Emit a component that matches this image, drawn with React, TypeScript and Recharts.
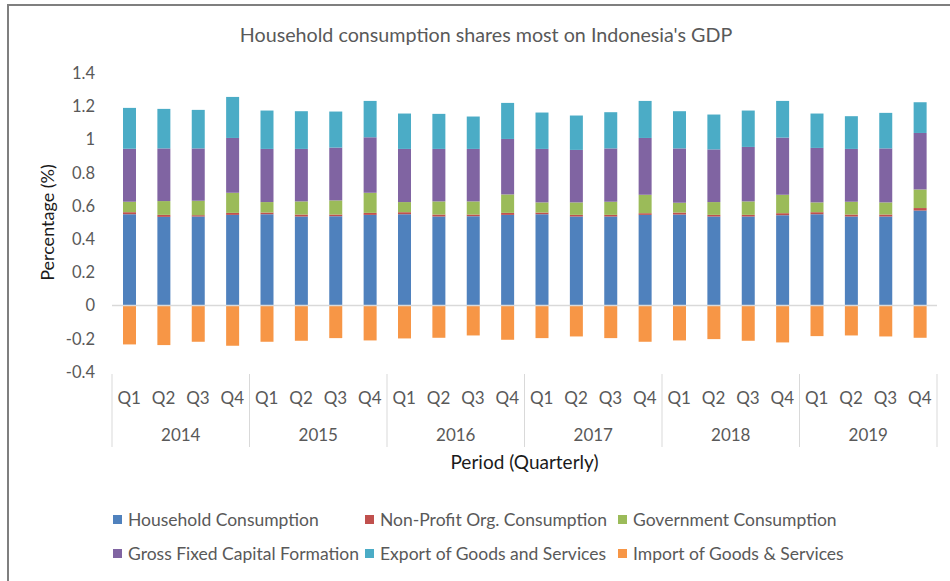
import React from "react";
import { BarChart, Bar, XAxis, YAxis, ReferenceLine, Legend } from "recharts";

const quarters = ["Q1","Q2","Q3","Q4","Q1","Q2","Q3","Q4","Q1","Q2","Q3","Q4","Q1","Q2","Q3","Q4","Q1","Q2","Q3","Q4","Q1","Q2","Q3","Q4"];
const years = ["2014","2014","2014","2014","2015","2015","2015","2015","2016","2016","2016","2016","2017","2017","2017","2017","2018","2018","2018","2018","2019","2019","2019","2019"];

const household = [0.550,0.534,0.536,0.546,0.550,0.536,0.538,0.546,0.550,0.536,0.538,0.546,0.550,0.536,0.536,0.546,0.548,0.536,0.536,0.544,0.550,0.536,0.536,0.572];
const nonProfit = [0.012,0.012,0.008,0.012,0.010,0.012,0.010,0.012,0.012,0.012,0.010,0.012,0.010,0.010,0.010,0.010,0.012,0.010,0.010,0.012,0.012,0.012,0.012,0.015];
const government = [0.063,0.083,0.087,0.121,0.063,0.079,0.085,0.121,0.061,0.079,0.079,0.111,0.061,0.075,0.079,0.111,0.059,0.077,0.081,0.111,0.059,0.077,0.073,0.112];
const gfcf = [0.319,0.317,0.315,0.330,0.320,0.316,0.318,0.334,0.320,0.316,0.316,0.334,0.322,0.316,0.321,0.342,0.327,0.317,0.328,0.344,0.328,0.318,0.325,0.340];
const exports = [0.246,0.238,0.232,0.247,0.231,0.227,0.217,0.219,0.213,0.211,0.195,0.217,0.219,0.207,0.218,0.223,0.224,0.210,0.219,0.221,0.207,0.197,0.214,0.185];
const imports = [-0.234,-0.238,-0.218,-0.242,-0.218,-0.212,-0.196,-0.210,-0.198,-0.194,-0.180,-0.206,-0.196,-0.186,-0.196,-0.218,-0.210,-0.202,-0.212,-0.222,-0.184,-0.180,-0.186,-0.194];

const yTicks = [-0.4,-0.2,0,0.2,0.4,0.6,0.8,1,1.2,1.4];

const seriesNames = ["Household Consumption","Non-Profit Org. Consumption","Government Consumption","Gross Fixed Capital Formation","Export of Goods and Services","Import of Goods & Services"];
const seriesKeys = ["hh","npo","gov","gfcf","exp","imp"];
const seriesColors = ["#4f81bd","#c0504d","#9bbb59","#8064a2","#4bacc6","#f79646"];

const data = quarters.map((q, i) => ({
  q,
  year: years[i],
  hh: household[i],
  npo: nonProfit[i],
  gov: government[i],
  gfcf: gfcf[i],
  exp: exports[i],
  imp: imports[i],
}));

const FONT = "Lato, 'Open Sans', sans-serif";
const W = 950;
const H = 581;
const PLOT_LEFT = 112;
const PLOT_RIGHT = 937;
const BAND = (PLOT_RIGHT - PLOT_LEFT) / quarters.length;
const SEP = "#d9d9d9";

const QTick = (props: any) => {
  const { x, y, payload } = props;
  return (
    <text x={x} y={y + 30} textAnchor="middle" fill="#595959" fontSize={17} fontFamily={FONT}>
      {payload.value}
    </text>
  );
};

const YearTick = (props: any) => {
  const { x, y, payload, index } = props;
  const top = y - 37;
  const els: any[] = [];
  if (index % 4 === 0) {
    const left = x - BAND / 2;
    els.push(<line key="l" x1={left} x2={left} y1={top} y2={top + 73} stroke={SEP} strokeWidth={1} />);
    els.push(
      <text key="t" x={left + 2 * BAND} y={y + 30} textAnchor="middle" fill="#595959" fontSize={17} fontFamily={FONT}>
        {payload.value}
      </text>
    );
  }
  if (index === quarters.length - 1) {
    const right = x + BAND / 2;
    els.push(<line key="r" x1={right} x2={right} y1={top} y2={top + 73} stroke={SEP} strokeWidth={1} />);
  }
  return <g>{els}</g>;
};

const LegendContent = (props: any) => {
  const { payload } = props;
  const xs = [113, 365, 618];
  const items = seriesNames.map((name, i) => {
    const p = (payload || []).find((e: any) => e.value === name);
    return { name, color: p ? p.color : seriesColors[i] };
  });
  return (
    <div style={{ position: "relative", width: W, height: 68 }}>
      {items.map((p, i) => {
        const col = i % 3;
        const row = Math.floor(i / 3);
        return (
          <div
            key={i}
            style={{
              position: "absolute",
              left: xs[col],
              top: row * 34,
              height: 34,
              display: "flex",
              alignItems: "center",
              whiteSpace: "nowrap",
              fontFamily: FONT,
              fontSize: 17.5,
              color: "#595959",
            }}
          >
            <span style={{ display: "inline-block", width: 9, height: 9, background: p.color, marginRight: 6 }} />
            <span>{p.name}</span>
          </div>
        );
      })}
    </div>
  );
};

export default function App() {
  return (
    <div style={{ position: "fixed", left: 0, top: 0, width: W, height: H, overflow: "hidden", background: "#fff" }}>
      <div style={{ position: "absolute", left: 7, top: 4, width: W + 20, height: H + 20, borderTop: "2px solid #7f7f7f", borderLeft: "2px solid #7f7f7f", boxSizing: "border-box" }} />
      <div style={{ position: "absolute", left: 0, top: 23, width: 972, textAlign: "center", fontFamily: FONT, fontSize: 19.7, color: "#595959" }}>
        Household consumption shares most on Indonesia's GDP
      </div>
      <div style={{ position: "absolute", left: 0, top: 0 }}>
        <BarChart
          width={W}
          height={H}
          data={data}
          margin={{ top: 73, right: W - PLOT_RIGHT, left: 50, bottom: 67 }}
          stackOffset="sign"
          barSize={13}
        >
          <XAxis dataKey="q" xAxisId={0} height={37} interval={0} tickLine={false} axisLine={false} tickSize={0} tick={<QTick />} />
          <XAxis
            dataKey="year"
            xAxisId="year"
            height={37}
            interval={0}
            tickLine={false}
            axisLine={false}
            tickSize={0}
            tick={<YearTick />}
            label={{
              content: (lp: any) => {
                const vb = lp.viewBox || {};
                return (
                  <text x={vb.x + vb.width / 2} y={vb.y + 60} textAnchor="middle" fill="#1a1a1a" fontSize={19} fontFamily={FONT}>
                    Period (Quarterly)
                  </text>
                );
              },
            }}
          />
          <YAxis
            width={62}
            domain={[-0.4, 1.4]}
            ticks={yTicks}
            interval={0}
            tickLine={false}
            axisLine={false}
            tickSize={0}
            tickMargin={17}
            tick={{ fill: "#595959", fontSize: 16.5, fontFamily: FONT }}
            tickFormatter={(v: number) => String(v)}
            label={{
              content: (lp: any) => {
                const vb = lp.viewBox || {};
                const cx = 47;
                const cy = vb.y + vb.height / 2;
                return (
                  <text x={cx} y={cy} transform={`rotate(-90 ${cx} ${cy})`} textAnchor="middle" dominantBaseline="central" fill="#1a1a1a" fontSize={18} fontFamily={FONT}>
                    Percentage (%)
                  </text>
                );
              },
            }}
          />
          <ReferenceLine y={0} stroke={SEP} strokeWidth={1.5} />
          {seriesKeys.map((k, i) => (
            <Bar key={k} dataKey={k} name={seriesNames[i]} stackId="a" fill={seriesColors[i]} isAnimationActive={false} />
          ))}
          <Legend content={<LegendContent />} wrapperStyle={{ top: 502, left: 0, bottom: "auto", width: W, height: 68 }} />
        </BarChart>
      </div>
    </div>
  );
}
